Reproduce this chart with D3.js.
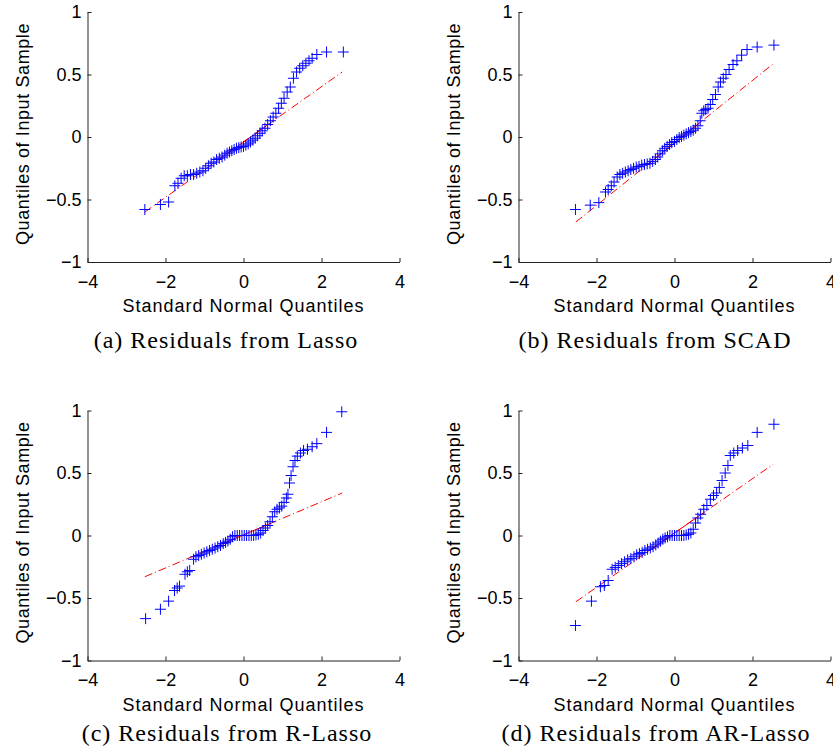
<!DOCTYPE html>
<html>
<head>
<meta charset="utf-8">
<script src="https://cdn.jsdelivr.net/npm/d3@7"></script>
<style>
  body { margin: 0; background: #fff; }
  svg { display: block; }
</style>
</head>
<body>
<div id="chart"></div>
<script>
// tick values and labels shared by the four panels
const xTicks = [-4, -2, 0, 2, 4];
const xTickLabels = ["\u22124", "\u22122", "0", "2", "4"];
const yTicks = [-1, -0.5, 0, 0.5, 1];
const yTickLabels = ["\u22121", "\u22120.5", "0", "0.5", "1"];

const captions = [
    "(a) Residuals from Lasso",
    "(b) Residuals from SCAD",
    "(c) Residuals from R-Lasso",
    "(d) Residuals from AR-Lasso"
];

// [standard normal quantile, sample quantile]
const lassoPoints = [
    [-2.53, -0.58], [-2.13, -0.54], [-1.92, -0.52], [-1.76, -0.39], [-1.68, -0.37],
    [-1.60, -0.33], [-1.52, -0.31], [-1.44, -0.31], [-1.36, -0.30], [-1.28, -0.30],
    [-1.20, -0.29], [-1.12, -0.28], [-1.04, -0.27], [-0.97, -0.25], [-0.90, -0.23],
    [-0.83, -0.21], [-0.76, -0.20], [-0.69, -0.18], [-0.62, -0.17], [-0.55, -0.16],
    [-0.48, -0.145], [-0.42, -0.13], [-0.36, -0.12], [-0.30, -0.11], [-0.24, -0.10],
    [-0.18, -0.09], [-0.12, -0.085], [-0.06, -0.08], [0.00, -0.075], [0.06, -0.065],
    [0.12, -0.055], [0.18, -0.04], [0.24, -0.025], [0.30, -0.01], [0.36, 0.01],
    [0.42, 0.03], [0.48, 0.05], [0.55, 0.07], [0.62, 0.10], [0.69, 0.13],
    [0.76, 0.16], [0.83, 0.19], [0.90, 0.23], [0.97, 0.27], [1.04, 0.31],
    [1.12, 0.36], [1.20, 0.40], [1.28, 0.47], [1.36, 0.52], [1.44, 0.55],
    [1.52, 0.57], [1.60, 0.59], [1.68, 0.61], [1.76, 0.63], [1.88, 0.66],
    [2.13, 0.68], [2.56, 0.68]
];
const scadPoints = [
    [-2.54, -0.58], [-2.16, -0.545], [-1.94, -0.525], [-1.77, -0.44], [-1.70, -0.42],
    [-1.62, -0.39], [-1.55, -0.36], [-1.47, -0.32], [-1.40, -0.30], [-1.33, -0.29],
    [-1.26, -0.28], [-1.19, -0.27], [-1.12, -0.26], [-1.05, -0.25], [-0.98, -0.24],
    [-0.91, -0.235], [-0.84, -0.225], [-0.77, -0.22], [-0.70, -0.215], [-0.63, -0.21],
    [-0.56, -0.195], [-0.49, -0.18], [-0.43, -0.16], [-0.37, -0.135], [-0.31, -0.11],
    [-0.25, -0.09], [-0.19, -0.075], [-0.13, -0.06], [-0.07, -0.045], [0.00, -0.035],
    [0.06, -0.02], [0.12, -0.005], [0.18, 0.005], [0.24, 0.015], [0.30, 0.025],
    [0.36, 0.035], [0.42, 0.045], [0.48, 0.055], [0.54, 0.07], [0.60, 0.09],
    [0.66, 0.13], [0.70, 0.19], [0.75, 0.21], [0.80, 0.22], [0.86, 0.23],
    [0.92, 0.26], [0.98, 0.30], [1.05, 0.34], [1.12, 0.40], [1.18, 0.44],
    [1.25, 0.47], [1.32, 0.50], [1.40, 0.54], [1.50, 0.58], [1.60, 0.61],
    [1.72, 0.655], [1.86, 0.70], [2.12, 0.72], [2.55, 0.735]
];
const rLassoPoints = [
    [-2.51, -0.665], [-2.13, -0.59], [-1.92, -0.525], [-1.77, -0.44], [-1.70, -0.42],
    [-1.64, -0.405], [-1.50, -0.31], [-1.44, -0.29], [-1.38, -0.28], [-1.28, -0.19],
    [-1.22, -0.17], [-1.15, -0.16], [-1.08, -0.15], [-1.01, -0.14], [-0.94, -0.13],
    [-0.87, -0.12], [-0.80, -0.11], [-0.73, -0.10], [-0.66, -0.09], [-0.59, -0.08],
    [-0.52, -0.065], [-0.46, -0.055], [-0.40, -0.045], [-0.34, -0.03], [-0.28, -0.01],
    [-0.22, 0.00], [-0.16, 0.00], [-0.10, 0.00], [-0.04, 0.00], [0.02, 0.00],
    [0.08, 0.00], [0.14, 0.00], [0.20, 0.00], [0.26, 0.00], [0.32, 0.005],
    [0.38, 0.01], [0.44, 0.02], [0.50, 0.04], [0.56, 0.06], [0.62, 0.08],
    [0.68, 0.11], [0.74, 0.15], [0.80, 0.19], [0.86, 0.21], [0.92, 0.22],
    [0.98, 0.235], [1.04, 0.265], [1.10, 0.30], [1.14, 0.33], [1.18, 0.42],
    [1.22, 0.48], [1.27, 0.55], [1.32, 0.60], [1.38, 0.635], [1.46, 0.66],
    [1.54, 0.68], [1.64, 0.69], [1.76, 0.71], [1.88, 0.735], [2.13, 0.825],
    [2.52, 0.99]
];
const arLassoPoints = [
    [-2.54, -0.72], [-2.13, -0.525], [-1.90, -0.41], [-1.80, -0.40], [-1.70, -0.36],
    [-1.60, -0.27], [-1.52, -0.255], [-1.44, -0.24], [-1.36, -0.225], [-1.28, -0.21],
    [-1.20, -0.195], [-1.12, -0.185], [-1.04, -0.17], [-0.97, -0.155], [-0.90, -0.145],
    [-0.83, -0.135], [-0.76, -0.12], [-0.69, -0.11], [-0.62, -0.10], [-0.55, -0.09],
    [-0.48, -0.075], [-0.42, -0.06], [-0.36, -0.045], [-0.30, -0.03], [-0.24, -0.02],
    [-0.18, -0.01], [-0.12, 0.00], [-0.06, 0.00], [0.00, 0.00], [0.06, 0.00],
    [0.12, 0.00], [0.18, 0.00], [0.24, 0.00], [0.30, 0.005], [0.36, 0.01],
    [0.42, 0.02], [0.48, 0.05], [0.54, 0.10], [0.60, 0.14], [0.67, 0.17],
    [0.75, 0.21], [0.83, 0.24], [0.92, 0.29], [1.00, 0.32], [1.08, 0.34],
    [1.15, 0.385], [1.22, 0.44], [1.30, 0.50], [1.37, 0.56], [1.43, 0.64],
    [1.52, 0.66], [1.62, 0.68], [1.74, 0.70], [1.88, 0.72], [2.12, 0.825],
    [2.55, 0.89]
];

// reference line (through the quartiles), x ends and y ends per panel
const lineX = [-2.53, 2.53];
const quartileX = [-0.67, 0.67];
const lassoLineY = [-0.60, 0.52];
const scadLineY = [-0.68, 0.585];
const rLassoLineY = [-0.33, 0.34];
const arLassoLineY = [-0.53, 0.57];

const WIDTH = 833, HEIGHT = 756;
const PLOT_W = 312, PLOT_H = 250;

const panels = [
    { points: lassoPoints, lineY: lassoLineY, caption: captions[0], left: 87.5, top: 12, capX: 226, capY: 348 },
    { points: scadPoints, lineY: scadLineY, caption: captions[1], left: 518.5, top: 12, capX: 655, capY: 348 },
    { points: rLassoPoints, lineY: rLassoLineY, caption: captions[2], left: 87.5, top: 410.5, capX: 227, capY: 741 },
    { points: arLassoPoints, lineY: arLassoLineY, caption: captions[3], left: 518.5, top: 410.5, capX: 656, capY: 741 }
];

const svg = d3.select("#chart").append("svg")
    .attr("width", WIDTH)
    .attr("height", HEIGHT);

svg.append("rect").attr("width", WIDTH).attr("height", HEIGHT).attr("fill", "#fff");

const xScale = d3.scaleLinear().domain([-4, 4]).range([0, PLOT_W]);
const yScale = d3.scaleLinear().domain([-1, 1]).range([PLOT_H, 0]);

function drawPanel(p) {
    const g = svg.append("g").attr("transform", `translate(${p.left},${p.top})`);

    // axes, MATLAB style: ticks pointing in, no box
    const xAxis = g.append("g")
        .attr("transform", `translate(0,${PLOT_H})`)
        .call(d3.axisBottom(xScale)
            .tickValues(xTicks)
            .tickFormat((d, i) => xTickLabels[i])
            .tickSizeInner(-4)
            .tickSizeOuter(0)
            .tickPadding(13));

    const yAxis = g.append("g")
        .call(d3.axisLeft(yScale)
            .tickValues(yTicks)
            .tickFormat((d, i) => yTickLabels[i])
            .tickSizeInner(-4)
            .tickSizeOuter(0)
            .tickPadding(6));

    [xAxis, yAxis].forEach(a => {
        a.select(".domain").attr("stroke", "#222");
        a.selectAll(".tick line").attr("stroke", "#222");
        a.selectAll("text")
            .attr("fill", "#000")
            .style("font-family", "'Liberation Sans', Arial, Helvetica, sans-serif")
            .style("font-size", "18px");
    });

    // axis labels
    g.append("text")
        .attr("x", PLOT_W / 2)
        .attr("y", PLOT_H + 50)
        .attr("text-anchor", "middle")
        .style("font-family", "'Liberation Sans', Arial, Helvetica, sans-serif")
        .style("font-size", "18px")
        .style("letter-spacing", "1px")
        .text("Standard Normal Quantiles");

    g.append("text")
        .attr("transform", "rotate(-90)")
        .attr("x", -PLOT_H / 2 + 3)
        .attr("y", -59)
        .attr("text-anchor", "middle")
        .style("font-family", "'Liberation Sans', Arial, Helvetica, sans-serif")
        .style("font-size", "18px")
        .style("letter-spacing", "0.6px")
        .text("Quantiles of Input Sample");

    // reference line: dash-dot over the data range, solid between quartiles
    const lineScale = d3.scaleLinear().domain(lineX).range(p.lineY);
    const line = d3.line().x(d => xScale(d)).y(d => yScale(lineScale(d)));

    g.append("path")
        .attr("d", line(lineX))
        .attr("fill", "none")
        .attr("stroke", "#ff0000")
        .attr("stroke-width", 1)
        .attr("stroke-dasharray", "8,3,1,3");

    g.append("path")
        .attr("d", line(quartileX))
        .attr("fill", "none")
        .attr("stroke", "#ff0000")
        .attr("stroke-width", 1);

    // '+' markers
    g.append("g")
        .selectAll("path")
        .data(p.points)
        .join("path")
        .attr("transform", d => `translate(${xScale(d[0])},${yScale(d[1])})`)
        .attr("d", "M-5.5,0H5.5M0,-5.5V5.5")
        .attr("fill", "none")
        .attr("stroke", "#0000ff")
        .attr("stroke-width", 1);

    // caption under the subfigure
    svg.append("text")
        .attr("x", p.capX)
        .attr("y", p.capY)
        .attr("text-anchor", "middle")
        .style("font-family", "'Liberation Serif', 'Times New Roman', serif")
        .style("font-size", "24px")
        .style("letter-spacing", "1px")
        .text(p.caption);
}

panels.forEach(drawPanel);
</script>
</body>
</html>
